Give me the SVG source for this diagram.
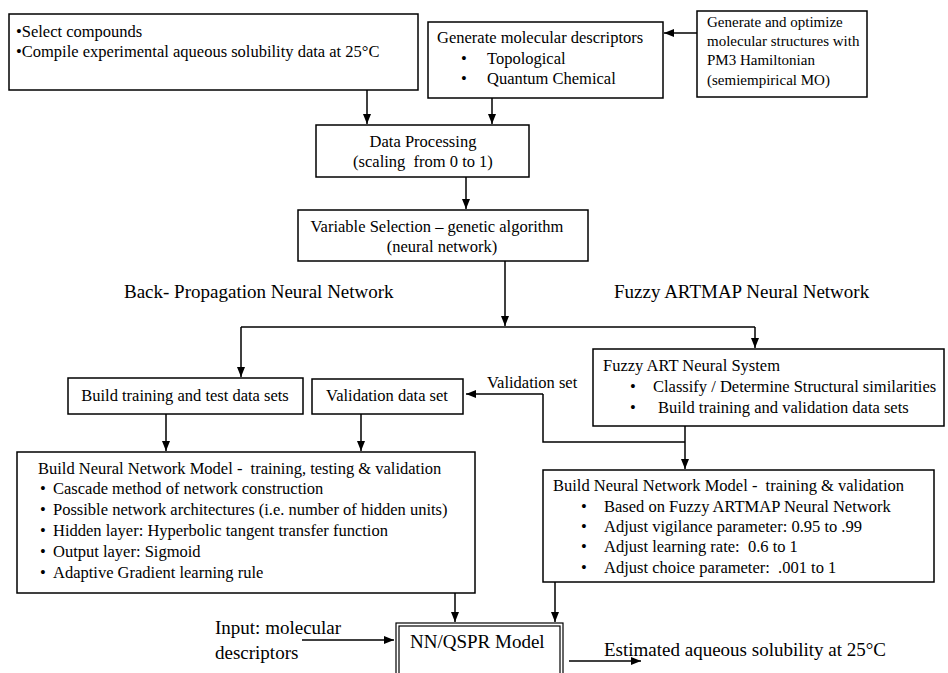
<svg xmlns="http://www.w3.org/2000/svg" width="948" height="673" viewBox="0 0 948 673">
<defs>
<marker id="ah" markerWidth="10" markerHeight="8" refX="10" refY="4" orient="auto" markerUnits="userSpaceOnUse">
<path d="M0,0 L10,4 L0,8 Z" fill="#000"/>
</marker>
<style>
.box{fill:#fff;stroke:#000;stroke-width:1.5}
.dbl{fill:none;stroke:#000;stroke-width:1.2}
.t{font-family:"Liberation Serif","Times New Roman",serif;font-size:16.5px;fill:#000}
.s{font-size:15px}
.l{font-family:"Liberation Serif","Times New Roman",serif;font-size:19px;fill:#000}
.c{text-anchor:middle}
.cn{fill:none;stroke:#000;stroke-width:1.5}
.ar{fill:none;stroke:#000;stroke-width:1.5;marker-end:url(#ah)}
</style>
</defs>
<rect width="948" height="673" fill="#fff"/>

<g id="connectors">
<line class="ar" x1="697" y1="33" x2="664" y2="33"/>
<line class="ar" x1="367" y1="90" x2="367" y2="124"/>
<line class="ar" x1="492" y1="98" x2="492" y2="124"/>
<line class="ar" x1="466" y1="177" x2="466" y2="209"/>
<line class="ar" x1="505" y1="261" x2="505" y2="326"/>
<polyline class="cn" points="241,327 755,327"/>
<line class="ar" x1="241" y1="327" x2="241" y2="377"/>
<line class="ar" x1="755" y1="327" x2="755" y2="348"/>
<polyline class="ar" points="685,426 685,469"/>
<polyline class="cn" points="685,442 543,442 543,394"/>
<line class="ar" x1="543" y1="394" x2="466" y2="394"/>
<line class="ar" x1="166" y1="414" x2="166" y2="451"/>
<line class="ar" x1="361" y1="414" x2="361" y2="451"/>
<line class="ar" x1="455" y1="593" x2="455" y2="622"/>
<line class="ar" x1="555" y1="582" x2="555" y2="622"/>
<line class="ar" x1="302" y1="640" x2="394" y2="640"/>
<line class="ar" x1="569" y1="661" x2="641" y2="661"/>
</g>

<g id="compounds">
<rect class="box" x="9" y="14" width="409" height="76"/>
<text class="t" x="16" y="37">•Select compounds</text>
<text class="t" x="16" y="57">•Compile experimental aqueous solubility data at 25°C</text>
</g>

<g id="descriptors">
<rect class="box" x="428" y="22" width="235" height="76"/>
<text class="t" x="437" y="43">Generate molecular descriptors</text>
<text class="t" x="461" y="64">•</text>
<text class="t" x="487" y="64">Topological</text>
<text class="t" x="461" y="84">•</text>
<text class="t" x="487" y="84">Quantum Chemical</text>
</g>

<g id="structures">
<rect class="box" x="697" y="11" width="170" height="86"/>
<text class="t s" x="707" y="27">Generate and optimize</text>
<text class="t s" x="707" y="46">molecular structures with</text>
<text class="t s" x="707" y="65">PM3 Hamiltonian</text>
<text class="t s" x="707" y="85">(semiempirical MO)</text>
</g>

<g id="dataprocessing">
<rect class="box" x="316" y="125" width="213" height="52"/>
<text class="t c" x="423" y="147">Data Processing</text>
<text class="t c" x="423" y="167" xml:space="preserve">(scaling  from 0 to 1)</text>
</g>

<g id="varselection">
<rect class="box" x="298" y="210" width="290" height="51"/>
<text class="t c" x="437" y="232">Variable Selection – genetic algorithm</text>
<text class="t c" x="442" y="252">(neural network)</text>
</g>

<g id="labels">
<text class="l" x="124" y="298">Back- Propagation Neural Network</text>
<text class="l" x="614" y="298">Fuzzy ARTMAP Neural Network</text>
<text class="t" x="487" y="388">Validation set</text>
</g>

<g id="trainingtest">
<rect class="box" x="68" y="378" width="235" height="36"/>
<text class="t c" x="185" y="401">Build training and test data sets</text>
</g>

<g id="validation">
<rect class="box" x="312" y="379" width="151" height="35"/>
<text class="t c" x="387" y="401">Validation data set</text>
</g>

<g id="fuzzyart">
<rect class="box" x="593" y="349" width="351" height="77"/>
<text class="t" x="603" y="371">Fuzzy ART Neural System</text>
<text class="t" x="630" y="392">•</text>
<text class="t" x="653" y="392">Classify / Determine Structural similarities</text>
<text class="t" x="630" y="413">•</text>
<text class="t" x="658" y="413">Build training and validation data sets</text>
</g>

<g id="bpmodel">
<rect class="box" x="17" y="452" width="458" height="141"/>
<text class="t" x="38" y="474" xml:space="preserve">Build Neural Network Model -  training, testing &amp; validation</text>
<text class="t" x="40" y="494">•</text><text class="t" x="53" y="494">Cascade method of network construction</text>
<text class="t" x="40" y="515">•</text><text class="t" x="53" y="515">Possible network architectures (i.e. number of hidden units)</text>
<text class="t" x="40" y="536">•</text><text class="t" x="53" y="536">Hidden layer: Hyperbolic tangent transfer function</text>
<text class="t" x="40" y="557">•</text><text class="t" x="53" y="557">Output layer: Sigmoid</text>
<text class="t" x="40" y="578">•</text><text class="t" x="53" y="578">Adaptive Gradient learning rule</text>
</g>

<g id="fuzzymodel">
<rect class="box" x="543" y="470" width="391" height="112"/>
<text class="t" x="553" y="491" xml:space="preserve">Build Neural Network Model -  training &amp; validation</text>
<text class="t" x="581" y="512">•</text><text class="t" x="604" y="512">Based on Fuzzy ARTMAP Neural Network</text>
<text class="t" x="581" y="532">•</text><text class="t" x="604" y="532">Adjust vigilance parameter: 0.95 to .99</text>
<text class="t" x="581" y="552">•</text><text class="t" x="604" y="552" xml:space="preserve">Adjust learning rate:  0.6 to 1</text>
<text class="t" x="581" y="573">•</text><text class="t" x="604" y="573" xml:space="preserve">Adjust choice parameter:  .001 to 1</text>
</g>

<g id="qspr">
<rect class="dbl" x="396" y="623" width="167" height="60"/>
<rect class="dbl" x="399" y="626" width="161" height="60"/>
<text class="l" x="410" y="648">NN/QSPR Model</text>
</g>

<g id="io">
<text class="l" x="215" y="634">Input: molecular</text>
<text class="l" x="215" y="659">descriptors</text>
<text class="l" x="604" y="656">Estimated aqueous solubility at 25°C</text>
</g>
</svg>
